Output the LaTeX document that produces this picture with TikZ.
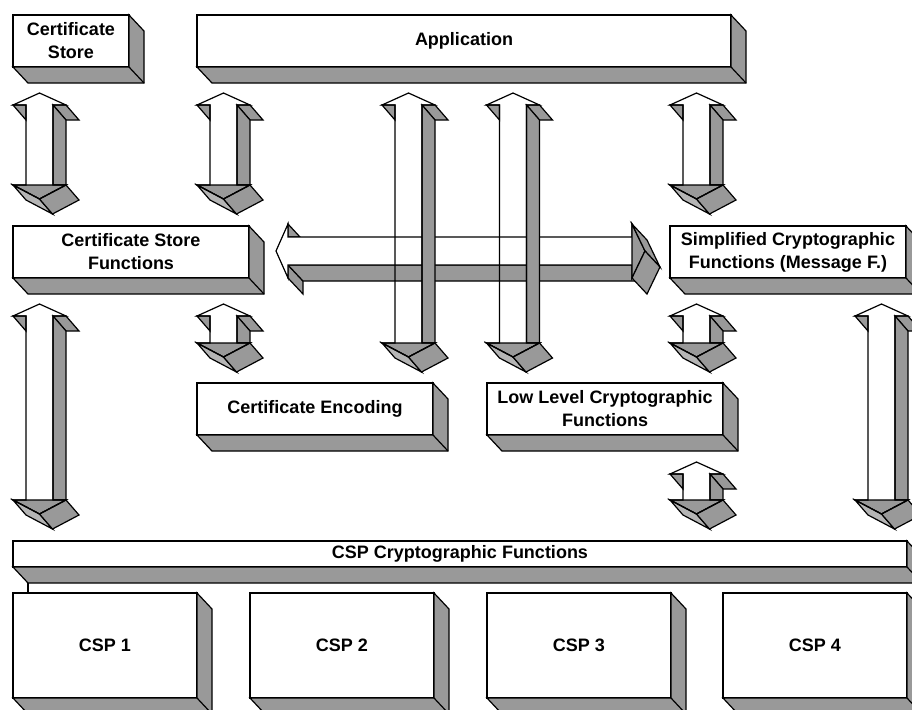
\documentclass[tikz,border=0pt]{standalone}
\usepackage{fontspec}
\setmainfont{Liberation Sans}
\usetikzlibrary{calc}
\definecolor{shade}{RGB}{153,153,153}
\definecolor{lightshade}{RGB}{181,181,181}
\newcommand{\vdarrow}[3]{% centre x, upper tip y, lower head base y
  \filldraw[fill=shade] (#1-26.5,#2+12) -- (#1-13.5,#2+12) -- (#1-13.5,#2+27) -- cycle;
  \filldraw[fill=shade] (#1+13.5,#2+12) -- (#1+26.5,#2+12) -- (#1+39.5,#2+27) -- (#1+26.5,#2+27) -- cycle;
  \filldraw[fill=shade] (#1+13.5,#2+12) -- (#1+26.5,#2+27) -- (#1+26.5,#3) -- (#1+13.5,#3) -- cycle;
  \filldraw[fill=shade] (#1-26.5,#3) -- (#1+26.5,#3) -- (#1,#3+14) -- cycle;
  \filldraw[fill=lightshade] (#1-26.5,#3) -- (#1,#3+14) -- (#1+13,#3+29) -- (#1-13.5,#3+15) -- cycle;
  \filldraw[fill=shade] (#1,#3+14) -- (#1+26.5,#3) -- (#1+39.5,#3+15) -- (#1+13,#3+29) -- cycle;
  \draw (#1,#2) -- (#1+26.5,#2+12) -- (#1+13.5,#2+12) -- (#1+13.5,#3) -- (#1+26.5,#3) -- (#1,#3+14)
    -- (#1-26.5,#3) -- (#1-13.5,#3) -- (#1-13.5,#2+12) -- (#1-26.5,#2+12) -- cycle;
}
\begin{document}
\begin{tikzpicture}[x=0.5pt, y=-0.5pt, line width=0.6pt,
  box/.style={draw, fill=white, inner sep=0pt, outer sep=0pt, align=center,
    font=\bfseries\fontsize{9}{11.5}\selectfont}]
\useasboundingbox (0,0) rectangle (912,709);
\clip (0,0) rectangle (912,709);

\node[box, minimum width=58pt, minimum height=26pt] (store) at (71,41) {Certificate\\Store};
\node[box, minimum width=267pt, minimum height=26pt] (app) at (464,41) {Application};
\node[box, minimum width=118pt, minimum height=26pt] (csf) at (131,252) {Certificate Store\\Functions};
\node[box, minimum width=118pt, minimum height=26pt] (scf) at (788,252) {Simplified Cryptographic\\Functions (Message F.)};
\node[box, minimum width=118pt, minimum height=26pt] (enc) at (315,409) {Certificate Encoding};
\node[box, minimum width=118pt, minimum height=26pt] (llc) at (605,409) {Low Level Cryptographic\\Functions};
\node[box, minimum width=447pt, minimum height=13pt] (band) at (460,554) {CSP Cryptographic Functions};
\foreach \i/\x in {1/105,2/342,3/579,4/815}
  \node[box, minimum width=92pt, minimum height=52.5pt] (csp\i) at (\x,645.5) {CSP \i};

\foreach \n in {store,app,csf,scf,enc,llc,band,csp1,csp2,csp3,csp4}{
  \filldraw[fill=shade] (\n.south west) -- ++(15,16) -- ($(\n.south east)+(15,16)$)
    -- ($(\n.north east)+(15,16)$) -- (\n.north east) -- (\n.south east) -- cycle;
  \draw (\n.south east) -- ++(15,16);
}
\draw ($(band.south west)+(15,16)$) -- ($(csp1.north west)+(15,0)$);

% horizontal double arrow
\filldraw[fill=shade] (288,224) -- (288,237) -- (300,237) -- cycle;
\filldraw[fill=shade] (288,265) -- (288,278) -- (303,294) -- (303,281) -- cycle;
\filldraw[fill=shade] (288,265) -- (632,265) -- (647,281) -- (303,281) -- cycle;
\filldraw[fill=white] (276,251) -- (288,224) -- (288,237) -- (632,237) -- (632,224) -- (645,251)
  -- (632,278) -- (632,265) -- (288,265) -- (288,278) -- cycle;
\filldraw[fill=shade] (632,224) -- (645,251) -- (632,278) -- cycle;
\filldraw[fill=shade] (632,224) -- (645,251) -- (660,267) -- (647,240) -- cycle;
\filldraw[fill=shade] (645,251) -- (632,278) -- (647,294) -- (660,267) -- cycle;

% vertical double arrows
\foreach \c/\t/\b in {39.5/93/185, 223.5/93/185, 408.5/93/343, 513/93/343, 696.5/93/185,
  39.5/304/500, 223.5/304/343, 696.5/304/343, 696.5/462/500, 881.5/304/500}
  \vdarrow{\c}{\t}{\b};
\end{tikzpicture}
\end{document}
